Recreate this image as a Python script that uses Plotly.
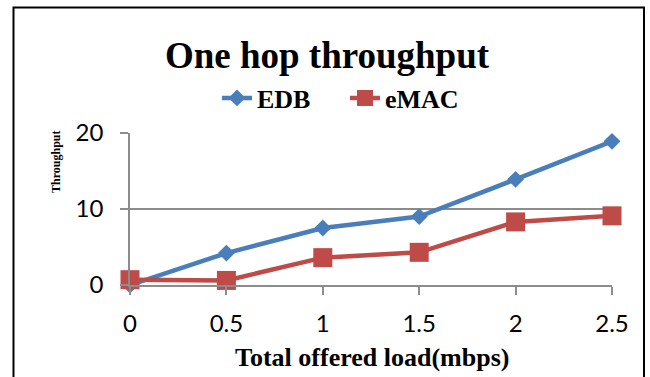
import plotly.graph_objects as go

loads = [0, 0.5, 1, 1.5, 2, 2.5]
tick_labels = ["0", "0.5", "1", "1.5", "2", "2.5"]
edb = [0, 4.2, 7.5, 9.0, 13.9, 18.9]
emac = [0.7, 0.6, 3.6, 4.3, 8.3, 9.1]
y_ticks = [0, 10, 20]

W, H = 650, 377
L, R, T, B = 130, 38, 133, 92
pw = W - L - R
ph = H - T - B

def px(x):
    return (x - L) / pw

def py(y):
    return (H - B - y) / ph

fig = go.Figure()
fig.add_trace(go.Scatter(
    x=loads, y=edb, name="<b>EDB</b>", mode="lines+markers",
    line=dict(color="#4A7EBB", width=4.5),
    marker=dict(symbol="diamond", size=13, color="#4A7EBB"),
    cliponaxis=False,
))
fig.add_trace(go.Scatter(
    x=loads, y=emac, name="<b>eMAC</b>", mode="lines+markers",
    line=dict(color="#BE4B48", width=4.5),
    marker=dict(symbol="square", size=19, color="#BE4B48"),
    cliponaxis=False,
))

grid = "#8C8C8C"
fig.update_xaxes(
    range=[0, 2.5], tickvals=loads, ticktext=tick_labels,
    showgrid=False, zeroline=False, showline=True, linecolor=grid, linewidth=1.5,
    ticks="outside", ticklen=8, tickcolor=grid, tickwidth=1.5,
    tickfont=dict(family="Lato", size=24, color="black"),
    ticklabelstandoff=8,
)
fig.update_yaxes(
    range=[0, 20], tickvals=y_ticks,
    showgrid=True, gridcolor=grid, gridwidth=1.5, zeroline=False,
    showline=True, linecolor=grid, linewidth=1.5,
    ticks="outside", ticklen=8, tickcolor=grid, tickwidth=1.5,
    tickfont=dict(family="Lato", size=24, color="black"),
    ticklabelstandoff=12,
)

fig.update_layout(
    width=W, height=H,
    margin=dict(l=L, r=R, t=T, b=B, pad=0),
    paper_bgcolor="white", plot_bgcolor="white",
    title=dict(
        text="<b>One hop throughput</b>", x=327 / W, xanchor="center",
        y=1 - 55 / H, yanchor="middle", xref="container", yref="container",
        font=dict(family="Liberation Serif", size=37, color="black"),
    ),
    legend=dict(
        orientation="h", x=px(217), xanchor="left", y=py(98), yanchor="middle",
        font=dict(family="Liberation Serif", size=26, color="black"),
        bgcolor="rgba(0,0,0,0)", itemwidth=30, tracegroupgap=0,
        entrywidth=83,
    ),
    showlegend=True,
    annotations=[
        dict(text="<b>Total offered load(mbps)</b>", x=px(372), y=py(357),
             xref="paper", yref="paper", xanchor="center", yanchor="middle",
             showarrow=False,
             font=dict(family="Liberation Serif", size=26, color="black")),
        dict(text="<b>Throughput</b>", x=px(56), y=py(162), textangle=-90,
             xref="paper", yref="paper", xanchor="center", yanchor="middle",
             showarrow=False,
             font=dict(family="Liberation Serif", size=12, color="black")),
    ],
    shapes=[
        dict(type="rect", xref="paper", yref="paper",
             x0=px(13.5), x1=px(644), y0=py(390), y1=py(7.5),
             line=dict(color="black", width=2), fillcolor="rgba(0,0,0,0)",
             layer="below"),
    ],
)

fig.write_html("out.html")
